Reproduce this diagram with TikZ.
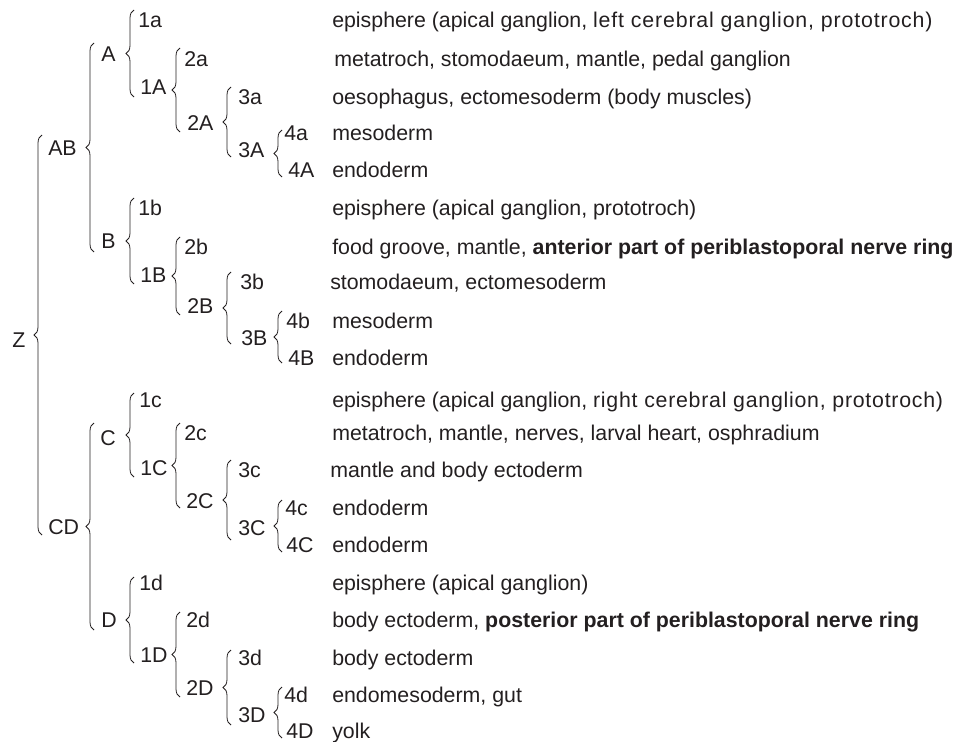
\documentclass[tikz,border=0pt]{standalone}
\usepackage{fontspec}
\setmainfont{Liberation Sans}
\usetikzlibrary{decorations.pathreplacing}
\definecolor{ink}{HTML}{231F20}
\tikzset{
  lab/.style={anchor=base west, inner sep=0pt, text=ink, font=\fontsize{16}{19}\selectfont},
  desc/.style={lab},
  brc/.style={draw=ink, line width=0.6pt, decorate, decoration={brace, amplitude=6pt}},
}
% brace: x of arm, top, bottom (px)
\newcommand\brc[3]{\draw[brc] (#1+4,#3) -- (#1+4,#2);}
\newcommand\wider[2]{{\addfontfeature{LetterSpace=#1}#2}}
\begin{document}
\begin{tikzpicture}[x=0.75pt,y=-0.75pt]
\useasboundingbox (0,0) rectangle (957,742);
% level 0/1
\node[lab] (z) at (12,347) {Z};
\node[lab] (ab) at (48,156) {AB};
\node[lab] (cd) at (48,534) {CD};
\node[lab] (a) at (101,62) {A};
\node[lab] (b) at (101,248) {B};
\node[lab] (c) at (100,445) {C};
\node[lab] (d) at (101,627) {D};
% group A
\node[lab] (n1a) at (138,28) {1a};
\node[lab] (n1A) at (140,94) {1A};
\node[lab] (n2a) at (184,67) {2a};
\node[lab] (n2A) at (187,130) {2A};
\node[lab] (n3a) at (238,104) {3a};
\node[lab] (n3A) at (238,157) {3A};
\node[lab] (n4a) at (284,140) {4a};
\node[lab] (n4A) at (288,177) {4A};
% group B
\node[lab] (n1b) at (138,215) {1b};
\node[lab] (n1B) at (140,282) {1B};
\node[lab] (n2b) at (184,254) {2b};
\node[lab] (n2B) at (187,313) {2B};
\node[lab] (n3b) at (240,289) {3b};
\node[lab] (n3B) at (241,345) {3B};
\node[lab] (n4b) at (286,328) {4b};
\node[lab] (n4B) at (288,365) {4B};
% group C
\node[lab] (n1c) at (139,407) {1c};
\node[lab] (n1C) at (140,475) {1C};
\node[lab] (n2c) at (184,440) {2c};
\node[lab] (n2C) at (186,508) {2C};
\node[lab] (n3c) at (238,477) {3c};
\node[lab] (n3C) at (238,535) {3C};
\node[lab] (n4c) at (285,515) {4c};
\node[lab] (n4C) at (286,552) {4C};
% group D
\node[lab] (n1d) at (139,590) {1d};
\node[lab] (n1D) at (140,662) {1D};
\node[lab] (n2d) at (186,627) {2d};
\node[lab] (n2D) at (186,695) {2D};
\node[lab] (n3d) at (238,665) {3d};
\node[lab] (n3D) at (238,722) {3D};
\node[lab] (n4d) at (284,702) {4d};
\node[lab] (n4D) at (286,738) {4D};
% descriptions
\node[desc] (t1a) at (332,28) {episphere (apical ganglion, \wider{4}{left cerebral ganglion, prototroch)}};
\node[desc] (t2a) at (334,67) {metatroch, stomodaeum, mantle, pedal ganglion};
\node[desc] (t3a) at (332,104) {oesophagus, ectomesoderm (body muscles)};
\node[desc] (t4a) at (332,140) {mesoderm};
\node[desc] (t4A) at (332,177) {endoderm};
\node[desc] (t1b) at (332,215) {episphere (apical ganglion, prototroch)};
\node[desc] (t2b) at (332,254) {food groove, mantle, \textbf{anterior part of periblastoporal nerve ring}};
\node[desc] (t3b) at (330,289) {stomodaeum, ectomesoderm};
\node[desc] (t4b) at (332,328) {mesoderm};
\node[desc] (t4B) at (332,365) {endoderm};
\node[desc] (t1c) at (332,407) {episphere (apical ganglion, \wider{3.5}{right cerebral ganglion, prototroch)}};
\node[desc] (t2c) at (332,440) {metatroch, mantle, nerves, larval heart, osphradium};
\node[desc] (t3c) at (330,477) {mantle and body ectoderm};
\node[desc] (t4c) at (332,515) {endoderm};
\node[desc] (t4C) at (332,552) {endoderm};
\node[desc] (t1d) at (332,590) {episphere (apical ganglion)};
\node[desc] (t2d) at (332,627) {body ectoderm, \textbf{posterior part of periblastoporal nerve ring}};
\node[desc] (t3d) at (332,665) {body ectoderm};
\node[desc] (t4d) at (332,702) {endomesoderm, gut};
\node[desc] (t4D) at (332,738) {yolk};
% braces
\brc{38}{135}{535}
\brc{90}{43}{252}
\brc{90}{423}{630}
\brc{130}{10}{97}
\brc{130}{198}{284}
\brc{130}{393}{477}
\brc{130}{577}{663}
\brc{176}{48}{132}
\brc{176}{237}{315}
\brc{176}{423}{508}
\brc{176}{612}{697}
\brc{227}{87}{157}
\brc{227}{272}{344}
\brc{227}{460}{540}
\brc{227}{650}{725}
\brc{278}{130}{177}
\brc{278}{311}{363}
\brc{278}{500}{552}
\brc{278}{687}{738}
\end{tikzpicture}
\end{document}
